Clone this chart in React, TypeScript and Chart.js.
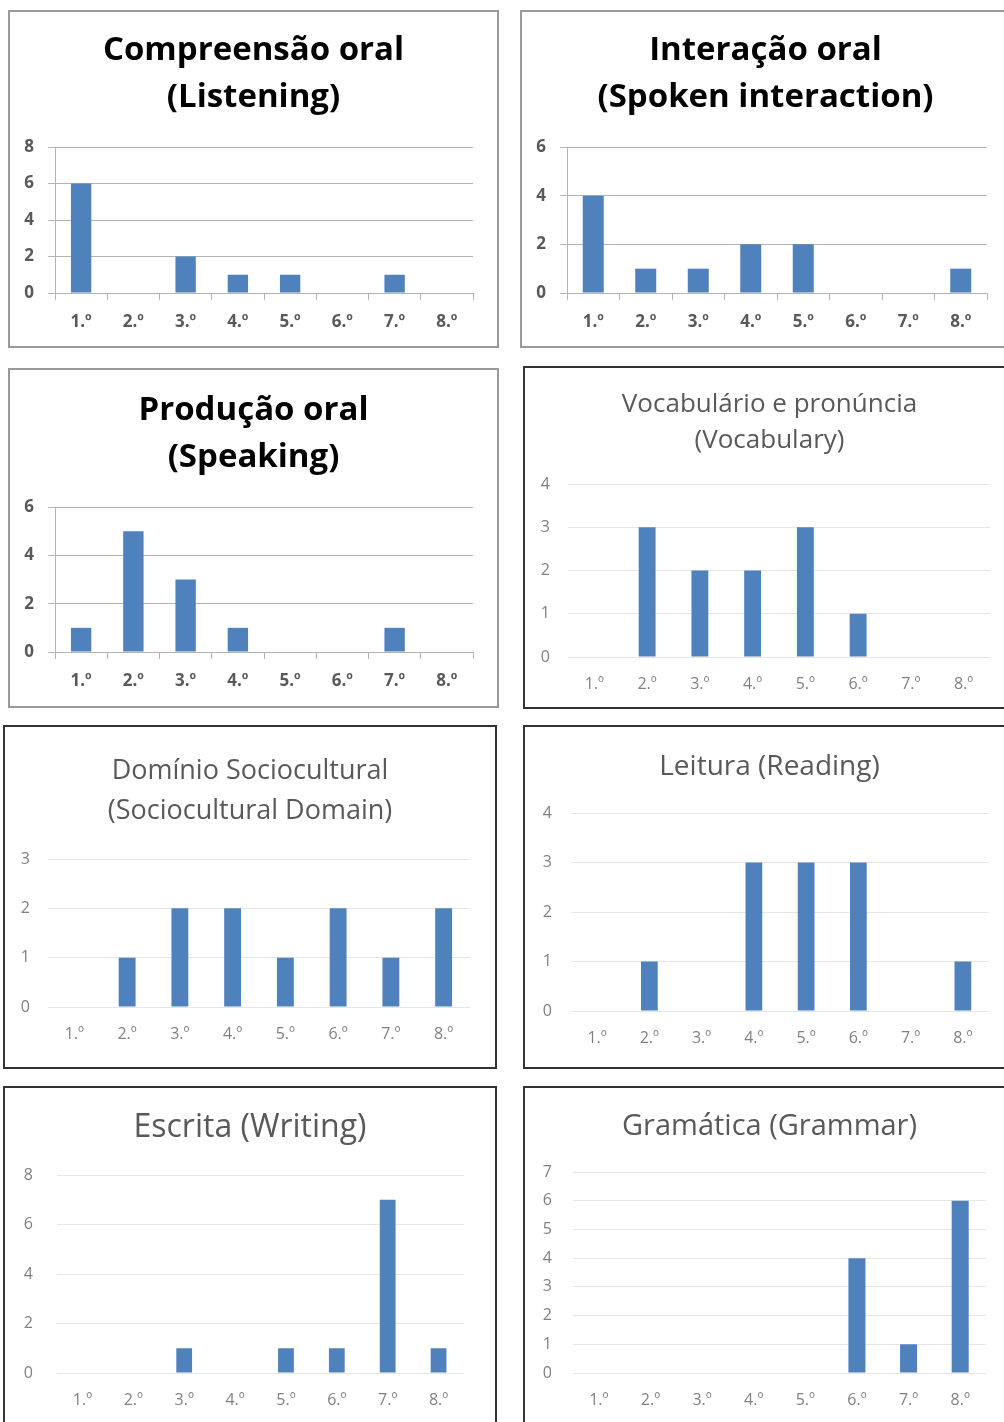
import React, { useEffect, useRef } from "react";
import { Chart, registerables } from "chart.js";

Chart.register(...registerables);

// School years shown on every category axis
const grades = ["1.º", "2.º", "3.º", "4.º", "5.º", "6.º", "7.º", "8.º"];

// Number of occurrences per school year, one list per skill
const listeningCounts = [6, 0, 2, 1, 1, 0, 1, 0];
const spokenInteractionCounts = [4, 1, 1, 2, 2, 0, 0, 1];
const speakingCounts = [1, 5, 3, 1, 0, 0, 1, 0];
const vocabularyCounts = [0, 3, 2, 2, 3, 1, 0, 0];
const socioculturalCounts = [0, 1, 2, 2, 1, 2, 1, 2];
const readingCounts = [0, 1, 0, 3, 3, 3, 0, 1];
const writingCounts = [0, 0, 1, 0, 1, 1, 7, 1];
const grammarCounts = [0, 0, 0, 0, 0, 4, 1, 6];

// Chart titles
const listeningTitle = ["Compreensão oral", "(Listening)"];
const spokenInteractionTitle = ["Interação oral", "(Spoken interaction)"];
const speakingTitle = ["Produção oral", "(Speaking)"];
const vocabularyTitle = ["Vocabulário e pronúncia", "(Vocabulary)"];
const socioculturalTitle = ["Domínio Sociocultural", "(Sociocultural Domain)"];
const readingTitle = ["Leitura (Reading)"];
const writingTitle = ["Escrita (Writing)"];
const grammarTitle = ["Gramática (Grammar)"];

// Value-axis ranges: [max, step]
const listeningRange = [8, 2];
const spokenInteractionRange = [6, 2];
const speakingRange = [6, 2];
const vocabularyRange = [4, 1];
const socioculturalRange = [3, 1];
const readingRange = [4, 1];
const writingRange = [8, 2];
const grammarRange = [7, 1];

type Rect = { x: number; y: number; w: number; h: number };
type Plot = { left: number; top: number; right: number; bottom: number };

type PanelSpec = {
  title: string[];
  values: number[];
  range: number[];
  classic: boolean;
  box: Rect;
  plot: Plot;
  titleSize: number;
  titleLine: number;
  titleY: number;
  barPct: number;
  yLabelPad: number;
};

const BAR_COLOR = "#4F81BD";
const FONT = "'Open Sans', 'Noto Sans', 'DejaVu Sans', sans-serif";

const panels: PanelSpec[] = [
  {
    title: listeningTitle, values: listeningCounts, range: listeningRange, classic: true,
    box: { x: 8, y: 10, w: 491, h: 338 },
    plot: { left: 55, top: 147, right: 473, bottom: 293 },
    titleSize: 33, titleLine: 47, titleY: 51, barPct: 0.39, yLabelPad: 14,
  },
  {
    title: spokenInteractionTitle, values: spokenInteractionCounts, range: spokenInteractionRange, classic: true,
    box: { x: 520, y: 10, w: 491, h: 338 },
    plot: { left: 567, top: 147, right: 987, bottom: 293 },
    titleSize: 33, titleLine: 47, titleY: 51, barPct: 0.4, yLabelPad: 14,
  },
  {
    title: speakingTitle, values: speakingCounts, range: speakingRange, classic: true,
    box: { x: 8, y: 368, w: 491, h: 340 },
    plot: { left: 55, top: 507, right: 473, bottom: 652 },
    titleSize: 33, titleLine: 47, titleY: 411, barPct: 0.39, yLabelPad: 14,
  },
  {
    title: vocabularyTitle, values: vocabularyCounts, range: vocabularyRange, classic: false,
    box: { x: 523, y: 366, w: 493, h: 343 },
    plot: { left: 568, top: 484, right: 990, bottom: 657 },
    titleSize: 26, titleLine: 36, titleY: 405, barPct: 0.32, yLabelPad: 18,
  },
  {
    title: socioculturalTitle, values: socioculturalCounts, range: socioculturalRange, classic: false,
    box: { x: 3, y: 725, w: 494, h: 344 },
    plot: { left: 48, top: 859, right: 470, bottom: 1007 },
    titleSize: 27, titleLine: 40, titleY: 771, barPct: 0.32, yLabelPad: 18,
  },
  {
    title: readingTitle, values: readingCounts, range: readingRange, classic: false,
    box: { x: 523, y: 725, w: 493, h: 344 },
    plot: { left: 571, top: 813, right: 989, bottom: 1011 },
    titleSize: 28, titleLine: 38, titleY: 767, barPct: 0.32, yLabelPad: 19,
  },
  {
    title: writingTitle, values: writingCounts, range: writingRange, classic: false,
    box: { x: 3, y: 1086, w: 494, h: 344 },
    plot: { left: 57, top: 1175, right: 464, bottom: 1373 },
    titleSize: 32, titleLine: 42, titleY: 1128, barPct: 0.31, yLabelPad: 24,
  },
  {
    title: grammarTitle, values: grammarCounts, range: grammarRange, classic: false,
    box: { x: 523, y: 1086, w: 493, h: 344 },
    plot: { left: 573, top: 1172, right: 986, bottom: 1373 },
    titleSize: 29, titleLine: 40, titleY: 1127, barPct: 0.33, yLabelPad: 21,
  },
];

const BORDER = 2;

function Panel({ spec }: { spec: PanelSpec }) {
  const ref = useRef<HTMLCanvasElement | null>(null);
  const innerX = spec.box.x + BORDER;
  const innerY = spec.box.y + BORDER;
  const innerW = spec.box.w - 2 * BORDER;
  const innerH = spec.box.h - 2 * BORDER;

  useEffect(() => {
    if (!ref.current) return;
    const classic = spec.classic;
    const gridColor = classic ? "#b4b4b4" : "#e6e6e6";
    const tickColor = classic ? "#595959" : "#808080";
    const tickFont = classic
      ? { family: FONT, size: 17, weight: "bold" as const }
      : { family: FONT, size: 16, weight: "normal" as const };

    const yAxisWidth = spec.plot.left - innerX;
    const rightGap = innerW - (spec.plot.right - innerX);
    const xAxisHeight = innerH - (spec.plot.bottom - innerY);
    const titlePadTop = spec.titleY - innerY - spec.titleLine / 2;
    const titlePadBottom =
      spec.plot.top - innerY - titlePadTop - spec.title.length * spec.titleLine;

    const chart = new Chart(ref.current, {
      type: "bar",
      data: {
        labels: grades,
        datasets: [
          {
            data: spec.values,
            backgroundColor: BAR_COLOR,
            borderWidth: 0,
            barPercentage: spec.barPct,
            categoryPercentage: 1,
          },
        ],
      },
      options: {
        responsive: false,
        animation: false,
        layout: { padding: 0 },
        plugins: {
          legend: { display: false },
          tooltip: { enabled: false },
          title: {
            display: true,
            text: spec.title,
            color: classic ? "#000000" : "#595959",
            font: {
              family: FONT,
              size: spec.titleSize,
              weight: classic ? "bold" : "normal",
              lineHeight: spec.titleLine / spec.titleSize,
            },
            padding: { top: titlePadTop, bottom: titlePadBottom },
          },
        },
        scales: {
          x: {
            afterFit: (scale: any) => {
              scale.height = xAxisHeight;
            },
            grid: classic
              ? { display: true, drawOnChartArea: false, drawTicks: true, tickLength: 7, color: gridColor, lineWidth: 1 }
              : { display: false },
            border: { display: classic, color: gridColor },
            ticks: {
              color: tickColor,
              font: tickFont,
              padding: classic ? 12 : 10,
              maxRotation: 0,
              autoSkip: false,
            },
          },
          y: {
            min: 0,
            max: spec.range[0],
            afterFit: (scale: any) => {
              scale.width = yAxisWidth;
            },
            grid: classic
              ? { color: gridColor, drawTicks: true, tickLength: 7, lineWidth: 1 }
              : { color: gridColor, drawTicks: false, lineWidth: 1 },
            border: { display: classic, color: gridColor },
            ticks: {
              stepSize: spec.range[1],
              color: tickColor,
              font: tickFont,
              padding: spec.yLabelPad,
            },
          },
          // empty right-hand axis that only reserves the margin beside the plot
          gap: {
            type: "linear",
            position: "right",
            display: true,
            afterFit: (scale: any) => {
              scale.width = rightGap;
            },
            grid: { display: false, drawOnChartArea: false },
            border: { display: false },
            ticks: { display: false },
          },
        },
      },
    });
    return () => chart.destroy();
  }, [spec]);

  return (
    <div
      style={{
        position: "absolute",
        left: spec.box.x,
        top: spec.box.y,
        width: spec.box.w,
        height: spec.box.h,
        boxSizing: "border-box",
        border: `${BORDER}px solid ${spec.classic ? "#9a9a9a" : "#333333"}`,
        background: "#ffffff",
      }}
    >
      <canvas
        ref={ref}
        width={innerW}
        height={innerH}
        style={{ display: "block", width: innerW, height: innerH }}
      />
    </div>
  );
}

export default function App() {
  return (
    <div
      style={{
        position: "absolute",
        left: 0,
        top: 0,
        width: 1004,
        height: 1422,
        overflow: "hidden",
        background: "#ffffff",
      }}
    >
      {panels.map((p, i) => (
        <Panel key={i} spec={p} />
      ))}
    </div>
  );
}
